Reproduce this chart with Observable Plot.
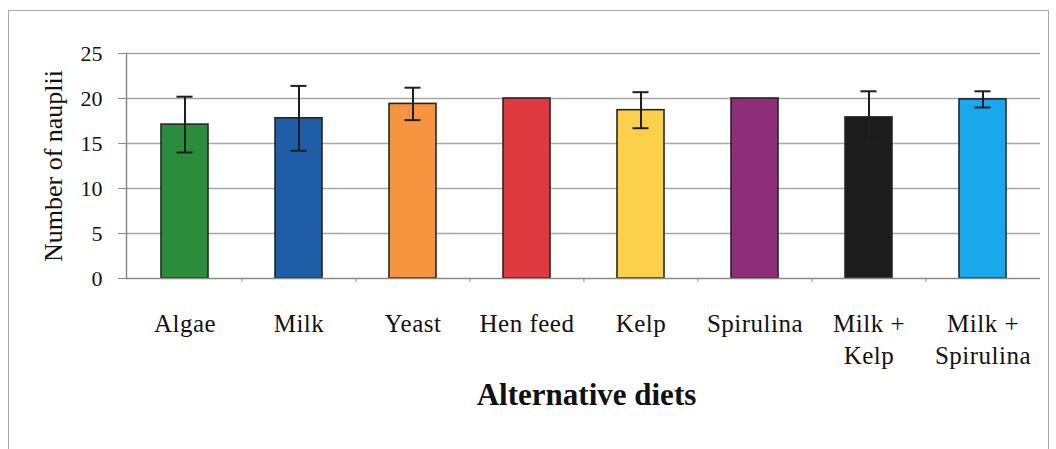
<!DOCTYPE html>
<html>
<head>
<meta charset="utf-8">
<script src="https://cdn.jsdelivr.net/npm/d3@7"></script>
<script src="https://cdn.jsdelivr.net/npm/@observablehq/plot@0.6"></script>
<style>
  html, body { margin: 0; padding: 0; background: #fff; }
  #wrap { position: relative; width: 1056px; height: 449px; overflow: hidden; }
  #border { position: absolute; left: 8px; top: 10px; width: 1041px; height: 460px;
            border: 1.5px solid #a8a8a8; pointer-events: none; box-sizing: border-box; }
  svg { font-family: "Liberation Serif", "Times New Roman", serif; }
  g[aria-label="x-axis tick label"] text { letter-spacing: 0.5px; }
</style>
</head>
<body>
<div id="wrap"><div id="border"></div></div>
<script>
const categories = ["Algae", "Milk", "Yeast", "Hen feed", "Kelp", "Spirulina", "Milk +\nKelp", "Milk +\nSpirulina"];
const means = [17.1, 17.8, 19.4, 20.0, 18.7, 20.0, 17.9, 19.9];
const sds = [3.1, 3.6, 1.8, 0, 2.0, 0, 2.9, 0.9];
const colors = ["#2b8c3c", "#1f5da6", "#f79440", "#de3a3f", "#fcd04b", "#8e2e78", "#1c1c1c", "#1aa8ec"];
const yTicks = [0, 5, 10, 15, 20, 25];
const yLabel = "Number of nauplii";
const xLabel = "Alternative diets";

const data = categories.map((c, i) => ({diet: c, mean: means[i], sd: sds[i], color: colors[i]}));
const errData = data.filter(d => d.sd > 0);

const chart = Plot.plot({
  width: 1056,
  height: 449,
  marginLeft: 126,
  marginRight: 16,
  marginTop: 53,
  marginBottom: 171,
  style: {background: "#fff", color: "#111"},
  x: {domain: categories, paddingInner: 0.59, paddingOuter: 0.295, label: null},
  y: {domain: [0, 25], label: null},
  marks: [
    Plot.gridY(yTicks.slice(1), {stroke: "#a8a8a8", strokeOpacity: 1, strokeWidth: 1.3}),
    Plot.ruleX(categories.slice(1), {x: d => d, y1: 0, y2: -0.45, dx: -57.1, stroke: "#999", strokeWidth: 1}),
    Plot.barY(data, {x: "diet", y: "mean", fill: "color", stroke: "#262626", strokeWidth: 1.6}),
    Plot.ruleX(errData, {x: "diet", y1: d => d.mean - d.sd, y2: d => d.mean + d.sd, stroke: "#1f1f1f", strokeWidth: 2}),
    Plot.tickY(errData, {x: "diet", y: d => d.mean + d.sd, stroke: "#1f1f1f", strokeWidth: 2, insetLeft: 15.5, insetRight: 15.5}),
    Plot.tickY(errData, {x: "diet", y: d => d.mean - d.sd, stroke: "#1f1f1f", strokeWidth: 2, insetLeft: 15.5, insetRight: 15.5}),
    Plot.ruleY([0], {stroke: "#8a8a8a", strokeWidth: 1.5}),
    Plot.frame({anchor: "left", stroke: "#8a8a8a", strokeWidth: 1.5}),
    Plot.axisY({ticks: yTicks, tickSize: 8, tickPadding: 16, fontSize: 22, label: null, stroke: "#8a8a8a"}),
    Plot.axisX({tickSize: 0, tickPadding: 30, fontSize: 25, lineHeight: 1.3, lineAnchor: "top", label: null}),
    Plot.text([yLabel], {text: d => d, frameAnchor: "left", textAnchor: "middle", rotate: -90, dx: -73, fontSize: 26, fill: "#111"}),
    Plot.text([xLabel], {text: d => d, frameAnchor: "bottom", dy: 126, dx: 3, fontSize: 31, fontWeight: "bold", fill: "#111"})
  ]
});
document.getElementById("wrap").prepend(chart);
</script>
</body>
</html>
